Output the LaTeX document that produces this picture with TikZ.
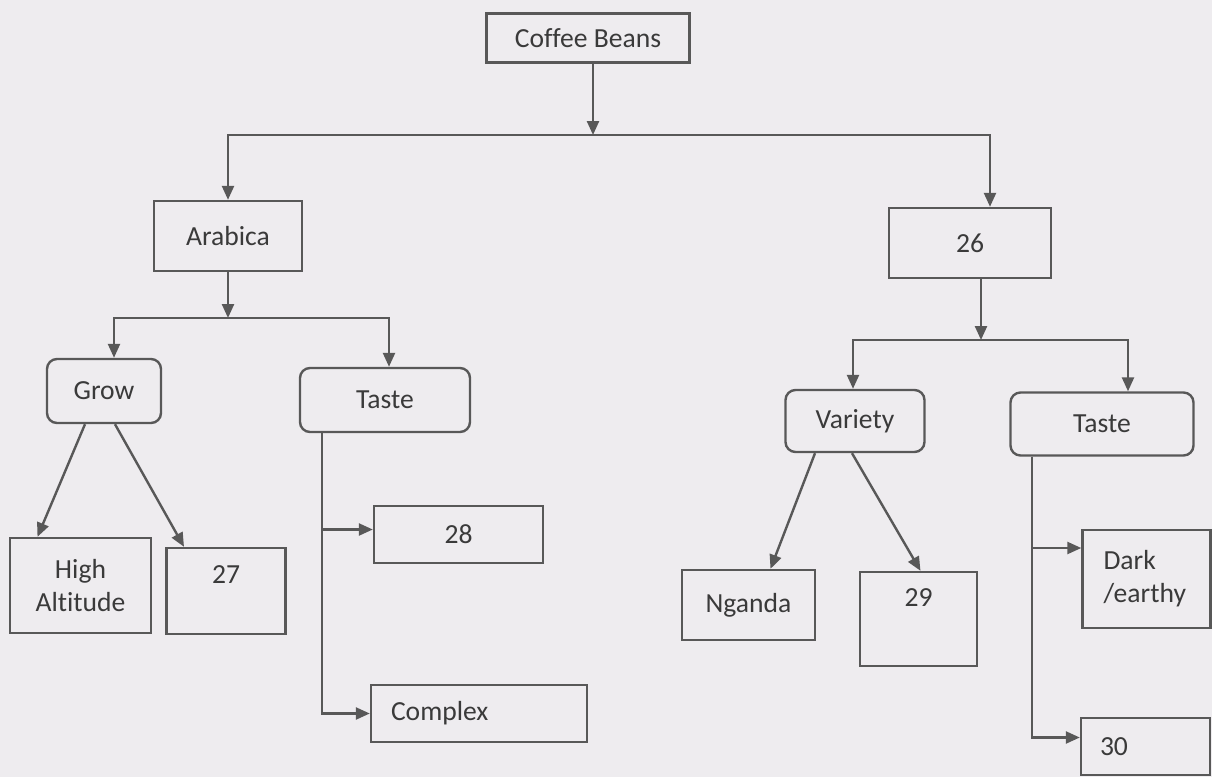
\documentclass[tikz,border=0pt]{standalone}
\usepackage{fontspec}
\setmainfont{Carlito}[Ligatures=NoCommon]
\usetikzlibrary{arrows.meta}
\definecolor{paper}{RGB}{238,236,239}
\definecolor{linegray}{RGB}{88,88,88}
\definecolor{textgray}{RGB}{58,58,58}
\newcommand{\drawbox}{\node[box]}
\newcommand{\drawround}{\node[box, rounded corners=5pt]}
\newcommand{\drawdummy}{\coordinate}
\newcommand{\boxfont}{\fontsize{13.8}{16.5}\selectfont}

\begin{document}
\begin{tikzpicture}[x=0.5pt, y=-0.5pt, >={Triangle[length=7pt,width=6pt]},
  box/.style={draw=linegray, line width=1.2pt, rectangle, inner sep=0pt, font=\boxfont, text=textgray, align=center},
  link/.style={draw=linegray, line width=1.2pt}]
\fill[paper] (0,0) rectangle (1212,777);
\useasboundingbox (0,0) rectangle (1212,777);
%coffee beans tree
\drawbox[minimum width=101.5pt, minimum height=24.5pt] (cb) at (588,38) {Coffee Beans};
\drawbox[minimum width=74pt, minimum height=35pt] (arabica) at (228,236) {Arabica};
\drawbox[minimum width=81pt, minimum height=35pt] (n26) at (970,243) {26};
\drawround[minimum width=57pt, minimum height=32pt] (grow) at (104,391) {Grow};
\drawround[minimum width=85pt, minimum height=32pt] (tasteA) at (385,400) {Taste};
\drawround[minimum width=69.5pt, minimum height=31pt] (variety) at (855,421) {Variety};
\drawround[minimum width=91.5pt, minimum height=31.5pt] (tasteR) at (1102,424) {Taste};
\drawbox[minimum width=70.5pt, minimum height=47.5pt] (high) at (80.5,585.5) {High\\Altitude};
\drawbox[minimum width=59.5pt, minimum height=43pt, text depth=16pt] (n27) at (226,591) {27};
\drawbox[minimum width=84.5pt, minimum height=28.5pt] (n28) at (458.5,534.5) {28};
\drawbox[minimum height=28.5pt, text width=88pt, inner xsep=10pt, align=left] (complex) at (479,713.5) {Complex};
\drawbox[minimum width=66.5pt, minimum height=35pt] (nganda) at (748.5,605) {Nganda};
\drawbox[minimum width=58.5pt, minimum height=47pt, text depth=21pt] (n29) at (918.5,619) {29};
\drawbox[minimum height=49pt, text width=43pt, inner xsep=10.5pt, align=left] (dark) at (1146.5,579) {Dark\\/earthy};
\drawbox[minimum height=28.5pt, text width=45.5pt, inner xsep=9.5pt, align=left] (n30) at (1145.5,746.5) {30};

\drawdummy (j1) at (593,135);
\drawdummy (j2) at (228,318);
\drawdummy (j3) at (981,340);

\draw[link, ->] (cb.south -| j1) -- (j1);
\draw[link, ->] (j1) -| (arabica.north);
\draw[link, ->] (j1) -| ([xshift=10pt]n26.north);

\draw[link, ->] (arabica.south) -- (j2);
\draw[link, ->] (j2) -| ([xshift=5pt]grow.north);
\draw[link, ->] (j2) -| ([xshift=2pt]tasteA.north);
\draw[link, ->] ([xshift=-9.5pt]grow.south) -- ([xshift=-21.5pt]high.north);
\draw[link, ->] ([xshift=5.5pt]grow.south) -- ([xshift=-21pt]n27.north);
\draw[link, ->] ([xshift=-31.5pt]tasteA.south) |- ([yshift=2.5pt]n28.west);
\draw[link, ->] ([xshift=-31.5pt]tasteA.south) |- (complex.west);

\draw[link, ->] ([xshift=5.5pt]n26.south) -- (j3);
\draw[link, ->] (j3) -| ([xshift=-1pt]variety.north);
\draw[link, ->] (j3) -| ([xshift=13pt]tasteR.north);
\draw[link, ->] ([xshift=-20pt]variety.south) -- ([xshift=11pt]nganda.north);
\draw[link, ->] ([xshift=-1.5pt]variety.south) -- ([xshift=1pt]n29.north);
\draw[link, ->] ([xshift=-35pt]tasteR.south) |- ([yshift=15.5pt]dark.west);
\draw[link, ->] ([xshift=-35pt]tasteR.south) |- ([yshift=4.5pt]n30.west);
\end{tikzpicture}
\end{document}
